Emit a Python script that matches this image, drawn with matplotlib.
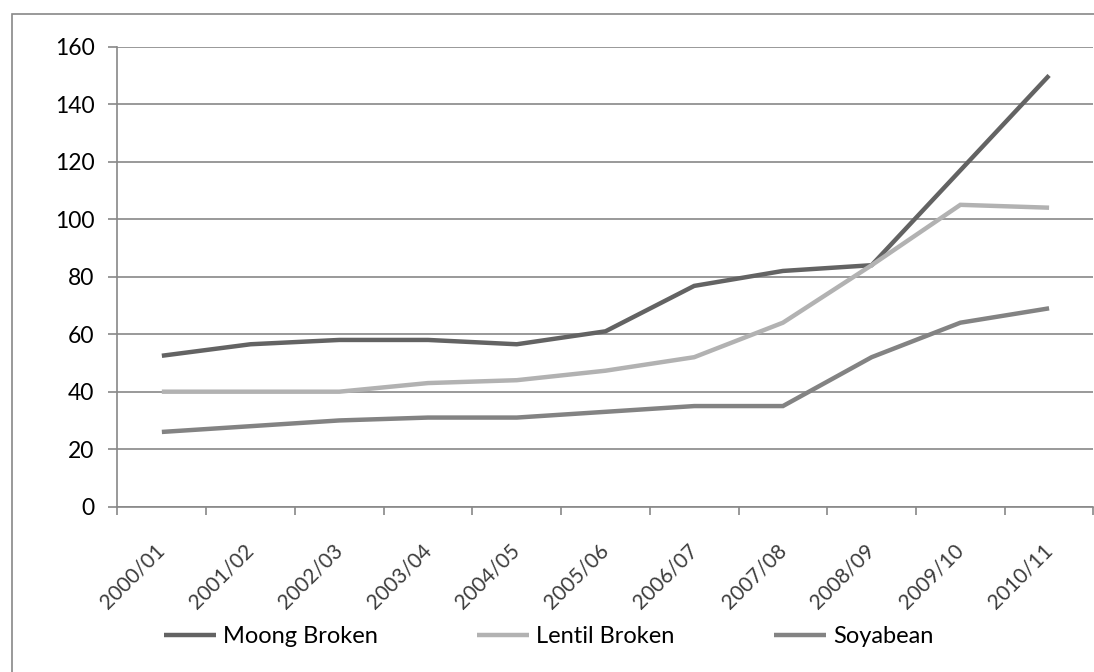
import matplotlib
matplotlib.use("Agg")
import matplotlib.pyplot as plt
from matplotlib.patches import Rectangle
import numpy as np

plt.rcParams['font.family'] = ['Lato', 'DejaVu Sans']

years = ['2000/01', '2001/02', '2002/03', '2003/04', '2004/05', '2005/06',
         '2006/07', '2007/08', '2008/09', '2009/10', '2010/11']
moong = [52.5, 56.5, 58, 58, 56.5, 61, 76.8, 82, 84, 117, 150]
lentil = [40, 40, 40, 43, 44, 47.3, 52, 64, 84, 105, 104]
soya = [26, 28, 30, 31, 31, 33, 35, 35, 52, 64, 69]

series = [
    ('Moong Broken', moong, '#636363'),
    ('Lentil Broken', lentil, '#b2b2b2'),
    ('Soyabean', soya, '#838383'),
]

grid_col = '#888888'

fig = plt.figure(figsize=(10.94, 6.72), dpi=100)
ax = fig.add_axes([0.1074, 0.246, 0.8921, 0.6845])

# outer chart border (runs off the right/bottom edge)
fig.patches.append(Rectangle((12 / 1094, -0.1), 1.2, 1 - 14 / 672 + 0.1,
                             transform=fig.transFigure, fill=False,
                             edgecolor=grid_col, linewidth=1.2, clip_on=False))

x = np.arange(len(years)) + 0.5
handles = []
for name, vals, col in series:
    h, = ax.plot(x, vals, color=col, linewidth=3.2, label=name,
                 solid_joinstyle='miter', solid_capstyle='butt', zorder=3)
    handles.append(h)

ax.set_xlim(0, len(years))
ax.set_ylim(0, 160)
ax.set_yticks(np.arange(0, 161, 20))
ax.yaxis.grid(True, color=grid_col, linewidth=1.2)
ax.set_axisbelow(True)

for s in ['top', 'right']:
    ax.spines[s].set_visible(False)
for s in ['left', 'bottom']:
    ax.spines[s].set_color(grid_col)
    ax.spines[s].set_linewidth(1.2)

# category boundaries get the tick marks, centres get the labels
ax.set_xticks(np.arange(len(years) + 1))
ax.set_xticklabels([])
ax.set_xticks(x, minor=True)
ax.set_xticklabels(years, minor=True)
ax.tick_params(axis='x', which='major', direction='out', length=6,
               width=1.2, color=grid_col)
ax.tick_params(axis='x', which='minor', length=0, pad=29,
               labelsize=15, labelcolor='#3c3c3c')
for lbl in ax.get_xticklabels(minor=True):
    lbl.set_rotation(45)
    lbl.set_rotation_mode('anchor')
    lbl.set_ha('right')
    lbl.set_va('center')

ax.tick_params(axis='y', direction='out', length=6.5, width=1.2,
               color=grid_col, pad=10, labelsize=16.5, labelcolor='black')

fig.legend(handles=handles, loc='center', bbox_to_anchor=(0.5017, 0.0525),
           ncol=3, frameon=False, fontsize=17, handlelength=2.2,
           handletextpad=0.3, columnspacing=4.2)

fig.savefig('out.png', dpi=100, facecolor='white')
